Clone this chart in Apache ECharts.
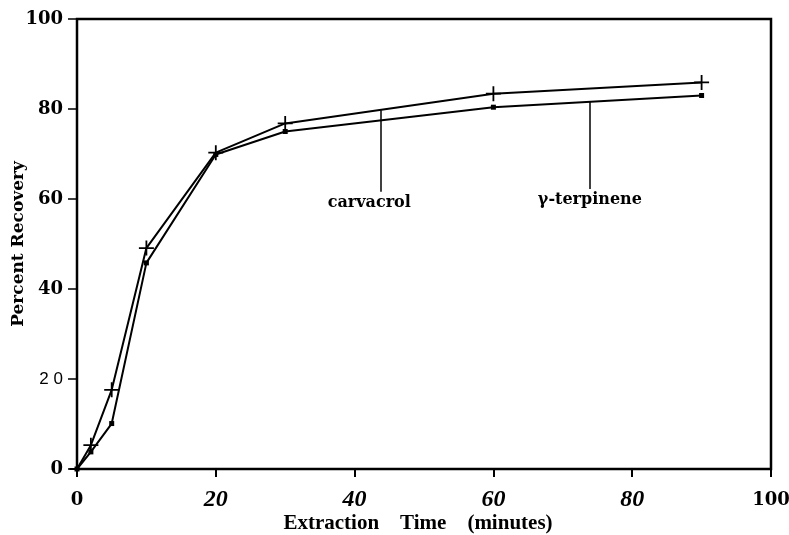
<!DOCTYPE html>
<html>
<head>
<meta charset="utf-8">
<script src="https://cdn.jsdelivr.net/npm/echarts@6/dist/echarts.min.js"></script>
<style>
  html, body { margin: 0; padding: 0; background: #fff; }
  #chart { width: 789px; height: 535px; }
</style>
</head>
<body>
<div id="chart"></div>
<script>
  // extraction time (minutes)
  let times = [0, 2, 5, 10, 20, 30, 60, 90]
  let carvacrol = [0, 5.3, 17.6, 49.1, 70.3, 76.8, 83.4, 85.9]
  let terpinene = [0, 3.8, 10.1, 45.8, 69.9, 75.0, 80.4, 83.0]
  let xTickLabels = ['0', '20', '40', '60', '80', '100']
  let yTickLabels = ['0', '2 0', '40', '60', '80', '100']
  // pointer lines for the two labels: [x, yTop, yBottom]
  let carvacrolPointer = [43.7, 79.7, 61.6]
  let terpinenePointer = [73.9, 81.6, 62.2]

  const serif = '"Liberation Serif", "DejaVu Serif", serif'
  const slab = '"DejaVu Serif", serif'
  const crossPath = 'path://M0,4.4H10V5.6H0Z M4.4,0H5.6V10H4.4Z'

  function pair(a, b) {
    return a.map((v, i) => [v, b[i]])
  }

  function pointer(p, text, shift) {
    return {
      silent: true,
      symbol: 'none',
      lineStyle: { color: '#000', width: 1.5, type: 'solid' },
      label: {
        show: true,
        position: 'end',
        distance: 3,
        offset: [shift, 0],
        formatter: text,
        color: '#000',
        fontFamily: slab,
        fontWeight: 'bold',
        fontSize: 16
      },
      emphasis: { disabled: true },
      data: [[{ coord: [p[0], p[1]] }, { coord: [p[0], p[2]] }]]
    }
  }

  const option = {
    backgroundColor: '#fff',
    animation: false,
    grid: {
      show: true,
      left: 77,
      right: 18,
      top: 19,
      bottom: 66,
      outerBoundsMode: 'none',
      containLabel: false,
      borderColor: '#000',
      borderWidth: 2.5
    },
    xAxis: {
      type: 'value',
      min: 0,
      max: 100,
      interval: 20,
      name: 'Extraction    Time    (minutes)',
      nameLocation: 'middle',
      nameGap: 44,
      nameMoveOverlap: false,
      nameTextStyle: {
        color: '#000', fontFamily: serif, fontWeight: 'bold', fontSize: 21,
        padding: [0, 12, 0, 0]
      },
      axisLine: { show: true, lineStyle: { color: '#000', width: 2 } },
      axisTick: { show: true, inside: false, length: 8, lineStyle: { color: '#000', width: 2 } },
      splitLine: { show: false },
      axisLabel: {
        showMinLabel: true,
        showMaxLabel: true,
        margin: 19,
        formatter: function (v) {
          let s = xTickLabels[Math.round(v / 20)]
          if (v === 0 || v === 100) return '{b|' + s + '}'
          return '{i|' + s + '}'
        },
        rich: {
          b: { color: '#000', fontFamily: slab, fontWeight: 'bold', fontSize: 18, lineHeight: 24 },
          i: { color: '#000', fontFamily: serif, fontWeight: 'bold', fontStyle: 'italic', fontSize: 24, lineHeight: 24 }
        }
      }
    },
    yAxis: {
      type: 'value',
      min: 0,
      max: 100,
      interval: 20,
      name: 'Percent Recovery',
      nameLocation: 'middle',
      nameRotate: 90,
      nameGap: 50,
      nameMoveOverlap: false,
      nameTextStyle: { color: '#000', fontFamily: slab, fontWeight: 'bold', fontSize: 17 },
      axisLine: { show: true, lineStyle: { color: '#000', width: 2 } },
      axisTick: { show: true, inside: false, length: 9, lineStyle: { color: '#000', width: 1.5 } },
      splitLine: { show: false },
      axisLabel: {
        margin: 14,
        formatter: function (v) {
          let s = yTickLabels[Math.round(v / 20)]
          if (v === 20) return '{r|' + s + '}'
          return '{b|' + s + '}'
        },
        rich: {
          b: { color: '#000', fontFamily: slab, fontWeight: 'bold', fontSize: 18 },
          r: { color: '#000', fontFamily: '"Liberation Sans", sans-serif', fontSize: 17 }
        }
      }
    },
    series: [{
      name: 'carvacrol',
      type: 'line',
      data: pair(times, carvacrol),
      symbol: crossPath,
      symbolSize: 15,
      showAllSymbol: true,
      lineStyle: { color: '#000', width: 2 },
      itemStyle: { color: '#000' },
      markLine: pointer(carvacrolPointer, 'carvacrol', -11)
    }, {
      name: 'γ-terpinene',
      type: 'line',
      data: pair(times, terpinene),
      symbol: 'rect',
      symbolSize: 5,
      showAllSymbol: true,
      lineStyle: { color: '#000', width: 2 },
      itemStyle: { color: '#000' },
      markLine: pointer(terpinenePointer, 'γ-terpinene', 0)
    }]
  }

  const chart = echarts.init(document.getElementById('chart'), null, { renderer: 'canvas' })
  chart.setOption(option)
</script>
</body>
</html>
